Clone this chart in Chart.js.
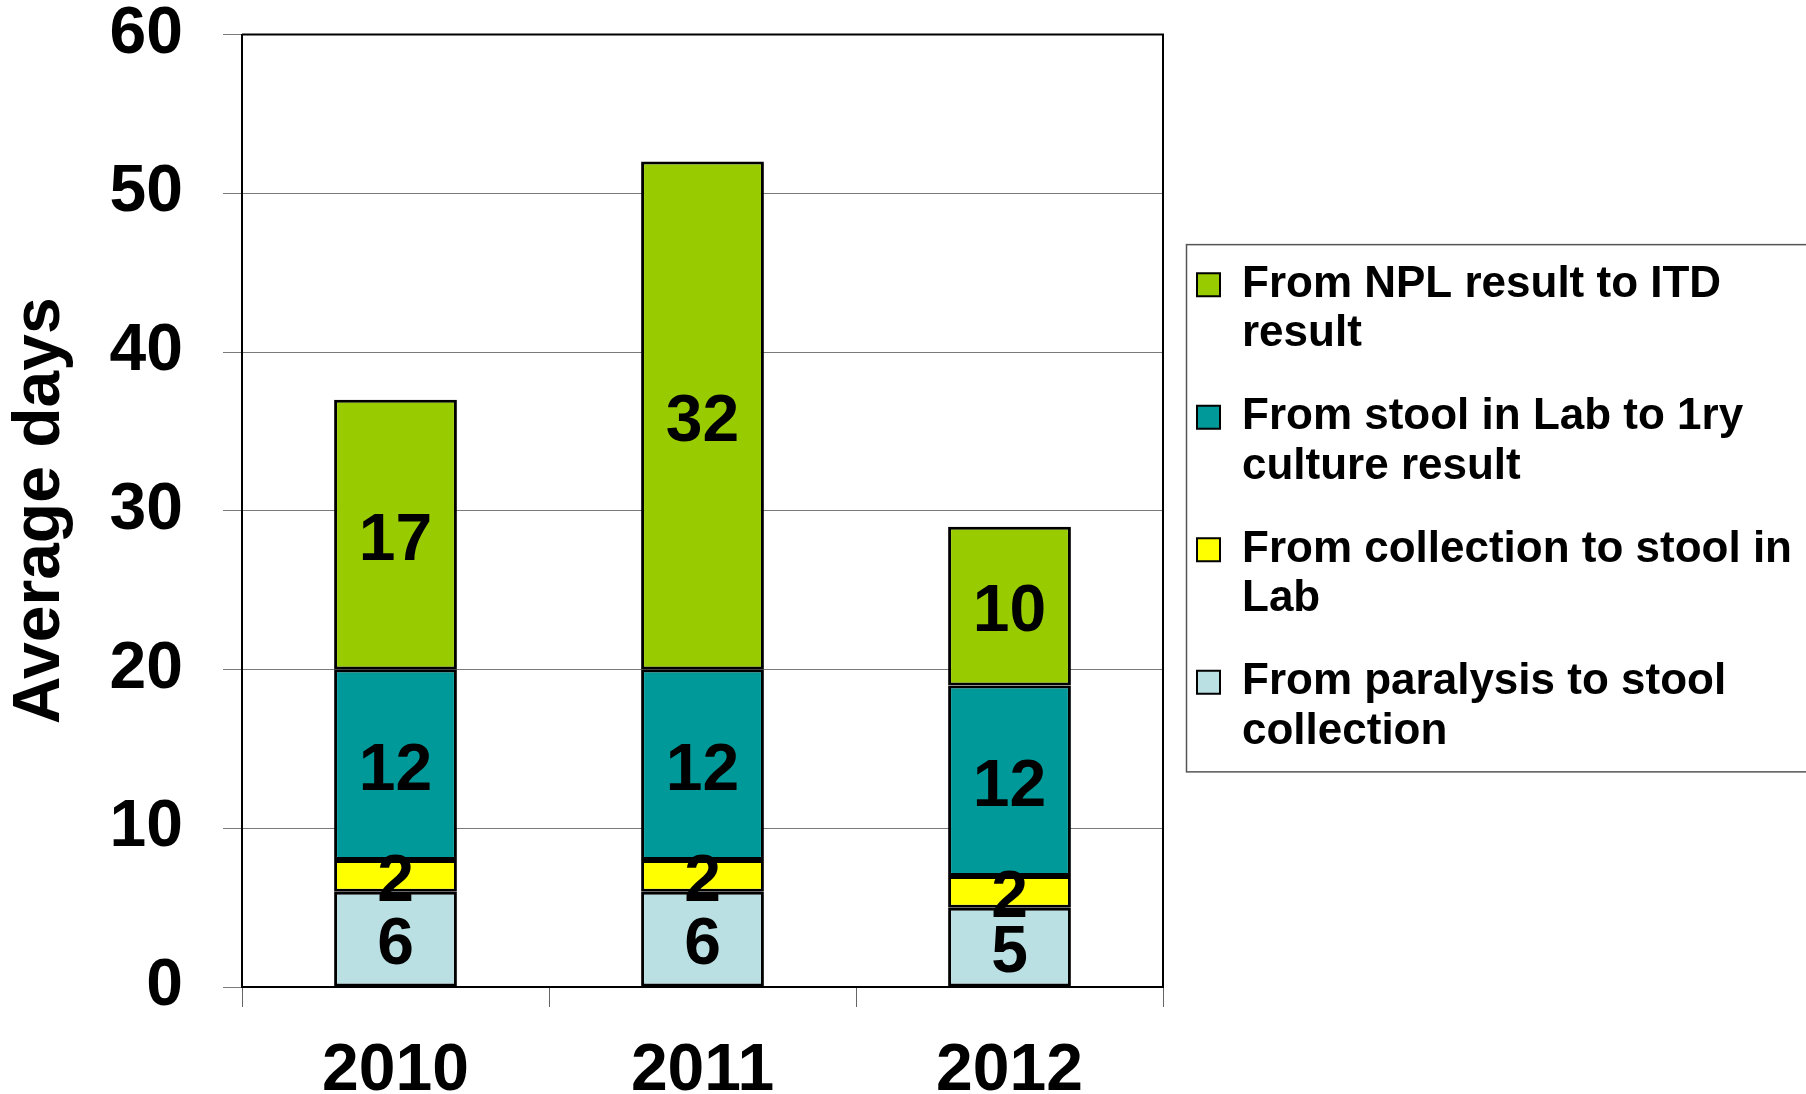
<!DOCTYPE html>
<html>
<head>
<meta charset="utf-8">
<script src="https://cdn.jsdelivr.net/npm/chart.js@4.4.0/dist/chart.umd.min.js"></script>
<style>
html,body{margin:0;padding:0;background:#fff;overflow:hidden}
#wrap{width:1806px;height:1094px;position:relative;background:#fff}
canvas{display:block}
</style>
</head>
<body>
<div id="wrap"><canvas id="c" width="1806" height="1094"></canvas></div>
<script>
// ---- data ----
const categories = ['2010', '2011', '2012'];
const paralysisToCollection = [6, 6, 5];
const collectionToLab = [2, 2, 2];
const labToCulture = [12, 12, 12];
const nplToItd = [17, 32, 10];
const seriesNames = [
  ['From paralysis to stool', 'collection'],
  ['From collection to stool in', 'Lab'],
  ['From stool in Lab to 1ry', 'culture result'],
  ['From NPL result to ITD', 'result']
];
const seriesColors = ['#BBE0E3', '#FFFF00', '#009999', '#99CC00'];
const yMin = 0, yMax = 60, yStep = 10;

const FONT = "'Liberation Sans', Arial, Helvetica, sans-serif";
Chart.defaults.font.family = FONT;
Chart.defaults.color = '#000';

const LEGEND_WIDTH = 643;
const BIG = 66;
const seriesValues = [paralysisToCollection, collectionToLab, labToCulture, nplToItd];

// let the legend be wider than Chart.js' default cap (half of half the canvas)
const legendWidth = {
  id: 'legendWidth',
  beforeLayout(chart) {
    const lg = chart.legend;
    if (lg && !lg._wideFit) {
      const orig = lg.fit.bind(lg);
      lg.fit = function () { orig(); this.width = LEGEND_WIDTH; };
      lg._wideFit = true;
    }
  }
};

const frame = {
  id: 'frame',
  afterDraw(chart) {
    const {ctx, chartArea: a} = chart;
    ctx.save();
    ctx.strokeStyle = '#000';
    ctx.lineWidth = 2;
    ctx.beginPath();
    ctx.moveTo(a.left, a.top);
    ctx.lineTo(a.right, a.top);
    ctx.lineTo(a.right, a.bottom);
    ctx.stroke();
    ctx.restore();
  }
};

const valueLabels = {
  id: 'valueLabels',
  afterDatasetsDraw(chart) {
    const ctx = chart.ctx;
    ctx.save();
    ctx.font = 'bold ' + BIG + 'px ' + FONT;
    ctx.fillStyle = '#000';
    ctx.textAlign = 'center';
    ctx.textBaseline = 'middle';
    chart.data.datasets.forEach((ds, i) => {
      chart.getDatasetMeta(i).data.forEach((bar, j) => {
        const p = bar.getProps(['x', 'y', 'base'], true);
        ctx.fillText(String(ds.data[j]), p.x, (p.y + p.base) / 2 + 7);
      });
    });
    ctx.restore();
  }
};

const legendBorder = {
  id: 'legendBorder',
  afterDraw(chart) {
    const lg = chart.legend;
    const hb = lg.legendHitBoxes;
    if (!hb || !hb.length) return;
    const first = hb[0], last = hb[hb.length - 1];
    const ctx = chart.ctx;
    ctx.save();
    ctx.strokeStyle = '#555';
    ctx.lineWidth = 1.5;
    const top = first.top - 18;
    const bottom = last.top + last.height + 13;
    ctx.strokeRect(lg.left + 23.5, top, 1000, bottom - top);
    ctx.restore();
  }
};

new Chart(document.getElementById('c'), {
  type: 'bar',
  data: {
    labels: categories,
    datasets: seriesValues.map((vals, i) => ({
      label: seriesNames[i].join(' '),
      data: vals,
      backgroundColor: seriesColors[i],
      borderColor: '#000',
      borderWidth: 3,
      borderSkipped: false,
      inflateAmount: 0,
      barPercentage: 0.4,
      categoryPercentage: 1.0
    }))
  },
  options: {
    responsive: false,
    devicePixelRatio: 1,
    animation: false,
    layout: {padding: 0},
    scales: {
      x: {
        stacked: true,
        ticks: {color: '#000', font: {size: BIG, weight: 'bold'}, padding: 25},
        grid: {offset: true, drawOnChartArea: false, tickLength: 20, tickColor: '#666', lineWidth: 1},
        border: {display: true, color: '#000', width: 2},
        afterFit: s => { s.height = 107; }
      },
      y: {
        stacked: true,
        min: yMin,
        max: yMax,
        ticks: {stepSize: yStep, color: '#000', font: {size: BIG, weight: 'bold', lineHeight: 1.0}, padding: 40},
        grid: {color: '#7a7a7a', lineWidth: 1, tickLength: 19, tickColor: '#7a7a7a'},
        border: {display: true, color: '#000', width: 2},
        title: {display: true, text: 'Average days', color: '#000', font: {size: BIG, weight: 'bold', lineHeight: 1.2}, padding: {top: 1, bottom: 0}},
        afterFit: s => { s.width = 242; s.paddingTop = 34.5; s.paddingBottom = 0; }
      }
    },
    plugins: {
      tooltip: {enabled: false},
      title: {display: false},
      legend: {
        position: 'right',
        fullSize: false,
        align: 'center',
        labels: {
          boxWidth: 23,
          boxHeight: 23,
          padding: 34,
          color: '#000',
          font: {size: 44, weight: 'bold', lineHeight: 1.12},
          generateLabels(chart) {
            return chart.data.datasets.map((ds, i) => ({
              text: seriesNames[i],
              fillStyle: ds.backgroundColor,
              strokeStyle: '#000',
              lineWidth: 2,
              hidden: false,
              datasetIndex: i,
              fontColor: '#000'
            })).reverse();
          }
        }
      }
    }
  },
  plugins: [legendWidth, frame, valueLabels, legendBorder]
});
</script>
</body>
</html>
